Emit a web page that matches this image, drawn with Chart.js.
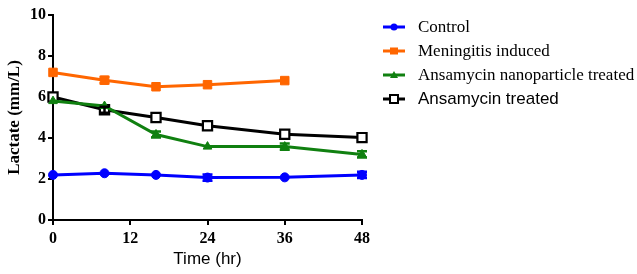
<!DOCTYPE html>
<html><head><meta charset="utf-8">
<script src="https://cdn.jsdelivr.net/npm/chart.js@4/dist/chart.umd.min.js"></script>
<style>
html,body{margin:0;padding:0;background:#fff;}
#wrap{position:relative;width:637px;height:274px;}
#legend{position:absolute;left:383px;top:0;}
.li{position:absolute;left:0;white-space:nowrap;height:20px;}
.li svg{position:absolute;left:0;top:0;}
.li span{position:absolute;left:35px;top:0;font-size:17px;line-height:20px;color:#000;}
</style></head>
<body><div id="wrap"><canvas id="c" width="637" height="274"></canvas>
<div id="legend"></div></div>
<script>
const timePoints = [0, 8, 16, 24, 36, 48];
const seriesNames = ["Control", "Meningitis induced", "Ansamycin nanoparticle treated", "Ansamycin treated"];
const controlValues = [2.2, 2.28, 2.2, 2.07, 2.08, 2.2];
const controlErrors = [0, 0, 0, 0.15, 0, 0.15];
const meningitisValues = [7.2, 6.82, 6.5, 6.6, 6.8, null];
const meningitisErrors = [0, 0.15, 0, 0, 0, 0];
const nanoValues = [5.8, 5.56, 4.17, 3.58, 3.58, 3.2];
const nanoErrors = [0, 0, 0.15, 0, 0.15, 0.15];
const ansamycinValues = [6.0, 5.38, 5.0, 4.6, 4.18, 4.02];
const ansamycinErrors = [0, 0.15, 0, 0, 0, 0];
const xTicks = [0, 12, 24, 36, 48];
const yTicks = [0, 2, 4, 6, 8, 10];

const colors = ["#0000ff", "#ff6600", "#108010", "#000000"];
const toXY = (vals) => timePoints.map((t, i) => ({x: t, y: vals[i]})).filter(p => p.y !== null);

const errorBars = {
  id: 'errorBars',
  afterDatasetsDraw(chart) {
    const ctx = chart.ctx, xs = chart.scales.x, ys = chart.scales.y;
    chart.data.datasets.forEach((ds) => {
      const errs = ds.errors || [];
      ctx.save();
      ctx.strokeStyle = ds.borderColor;
      ctx.lineWidth = 2.5;
      ds.data.forEach((p, i) => {
        const e = errs[i];
        if (!e) return;
        const x = xs.getPixelForValue(p.x);
        const y1 = ys.getPixelForValue(p.y - e), y2 = ys.getPixelForValue(p.y + e);
        ctx.beginPath();
        ctx.moveTo(x, y1); ctx.lineTo(x, y2);
        ctx.moveTo(x - 5, y1); ctx.lineTo(x + 5, y1);
        ctx.moveTo(x - 5, y2); ctx.lineTo(x + 5, y2);
        ctx.stroke();
      });
      ctx.restore();
    });
  }
};

const datasets = [
  {label: seriesNames[0], data: toXY(controlValues), errors: controlErrors, borderColor: colors[0], backgroundColor: colors[0], pointStyle: 'circle', pointRadius: 4.5},
  {label: seriesNames[1], data: toXY(meningitisValues), errors: meningitisErrors, borderColor: colors[1], backgroundColor: colors[1], pointStyle: 'rect', pointRadius: 6},
  {label: seriesNames[2], data: toXY(nanoValues), errors: nanoErrors, borderColor: colors[2], backgroundColor: colors[2], pointStyle: 'triangle', pointRadius: 5},
  {label: seriesNames[3], data: toXY(ansamycinValues), errors: ansamycinErrors, borderColor: colors[3], backgroundColor: '#ffffff', pointStyle: 'rect', pointRadius: 6.5, pointBorderWidth: 2.2}
].map(d => Object.assign({borderWidth: 3, tension: 0, clip: false, pointBorderColor: d.borderColor, pointBackgroundColor: d.backgroundColor, pointBorderWidth: d.pointBorderWidth || 1, order: 0}, d));

const tickFont = {family: "'Liberation Serif', 'Times New Roman', serif", size: 16, weight: 'bold'};

new Chart(document.getElementById('c'), {
  type: 'line',
  data: {datasets},
  plugins: [errorBars],
  options: {
    responsive: false,
    animation: false,
    layout: {padding: {top: 15, right: 275, left: 0, bottom: 0}},
    plugins: {legend: {display: false}, tooltip: {enabled: false}},
    scales: {
      x: {
        type: 'linear', min: 0, max: 48,
        afterBuildTicks(s) { s.ticks = xTicks.map(v => ({value: v})); },
        afterFit(s) { s.height = 54; },
        grid: {display: true, drawOnChartArea: false, drawTicks: true, tickLength: 5, color: '#000', lineWidth: 2},
        border: {color: '#000', width: 2},
        ticks: {color: '#000', font: tickFont, padding: 4, maxRotation: 0},
        title: {display: true, text: 'Time (hr)', color: '#000', font: {family: "'Liberation Sans', Arial, sans-serif", size: 17}, padding: {top: 1}}
      },
      y: {
        min: 0, max: 10,
        afterBuildTicks(s) { s.ticks = yTicks.map(v => ({value: v})); },
        afterFit(s) { s.width = 53; },
        grid: {display: true, drawOnChartArea: false, drawTicks: true, tickLength: 5, color: '#000', lineWidth: 2},
        border: {color: '#000', width: 2},
        ticks: {color: '#000', font: tickFont, padding: 2},
        title: {display: true, text: 'Lactate (mm/L)', color: '#000', font: {family: "'Liberation Serif', 'Times New Roman', serif", size: 17, weight: 'bold'}, padding: {bottom: 3}}
      }
    }
  }
});

// HTML legend
const legend = document.getElementById('legend');
const rowsY = [17, 41, 65, 89];
const fonts = ["'Liberation Serif', 'Times New Roman', serif", "'Liberation Serif', 'Times New Roman', serif", "'Liberation Serif', 'Times New Roman', serif", "'Liberation Sans', Arial, sans-serif"];
const markers = [
  c => `<circle cx="11" cy="10" r="3.5" fill="${c}"/>`,
  c => `<rect x="7" y="6.5" width="8" height="7" fill="${c}"/>`,
  c => `<polygon points="11,6 15,13 7,13" fill="${c}"/>`,
  c => `<rect x="7" y="6" width="8" height="8" fill="#fff" stroke="${c}" stroke-width="2"/>`
];
seriesNames.forEach((name, i) => {
  const d = document.createElement('div');
  d.className = 'li';
  d.style.top = rowsY[i] + 'px';
  d.innerHTML = `<svg width="24" height="20"><line x1="0" y1="10" x2="22" y2="10" stroke="${colors[i]}" stroke-width="3"/>${markers[i](colors[i])}</svg><span style="font-family:${fonts[i]}">${name}</span>`;
  legend.appendChild(d);
});
</script></body></html>
